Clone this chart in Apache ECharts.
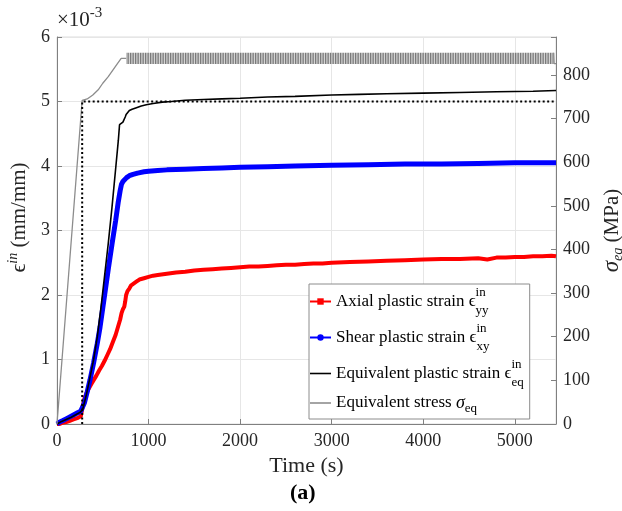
<!DOCTYPE html>
<html><head><meta charset="utf-8">
<script src="https://cdn.jsdelivr.net/npm/echarts@6/dist/echarts.min.js"></script>
<style>html,body{margin:0;padding:0;background:#fff}#c{width:622px;height:511px}</style>
</head><body><div id="c"></div>
<script>
// ---- data (time in s, strain in 1e-3 mm/mm, stress in MPa) ----
const xTicks = [0, 1000, 2000, 3000, 4000, 5000];
const axialStrain = [[0,0],[30,0.0],[60,0.02],[100,0.03],[140,0.05],[180,0.07],[220,0.09],[260,0.12],[275,0.15],[285,0.3],[300,0.4],[320,0.47],[340,0.53],[360,0.58],[380,0.63],[400,0.68],[430,0.75],[460,0.83],[490,0.9],[520,0.98],[550,1.07],[580,1.16],[610,1.27],[640,1.38],[665,1.5],[690,1.62],[705,1.72],[720,1.78],[735,1.82],[745,1.9],[755,2.0],[770,2.06],[790,2.1],[810,2.15],[840,2.18],[870,2.21],[900,2.24],[950,2.26],[1000,2.28],[1050,2.3],[1100,2.31],[1200,2.33],[1300,2.35],[1400,2.36],[1500,2.38],[1600,2.39],[1700,2.4],[1800,2.41],[1900,2.42],[2000,2.43],[2100,2.44],[2200,2.44],[2300,2.45],[2400,2.46],[2500,2.47],[2600,2.47],[2700,2.48],[2800,2.49],[2900,2.49],[3000,2.5],[3200,2.51],[3400,2.52],[3600,2.53],[3800,2.54],[4000,2.55],[4200,2.56],[4400,2.56],[4600,2.57],[4700,2.55],[4800,2.58],[4900,2.58],[5000,2.59],[5100,2.59],[5200,2.6],[5300,2.6],[5400,2.61],[5450,2.6]];
const shearStrain = [[0,0],[30,0.03],[60,0.05],[100,0.08],[140,0.11],[180,0.14],[220,0.17],[260,0.2],[280,0.23],[300,0.33],[330,0.5],[360,0.68],[400,0.95],[440,1.25],[470,1.5],[500,1.8],[530,2.1],[560,2.4],[600,2.78],[640,3.15],[670,3.45],[690,3.62],[705,3.72],[720,3.76],[740,3.79],[760,3.82],[790,3.85],[830,3.87],[880,3.89],[950,3.91],[1000,3.92],[1100,3.93],[1200,3.94],[1400,3.95],[1600,3.96],[1800,3.97],[2000,3.98],[2300,3.99],[2600,4.0],[3000,4.01],[3400,4.02],[3800,4.03],[4200,4.03],[4600,4.04],[5000,4.05],[5450,4.05]];
const eqStrain = [[0,0],[50,0.04],[100,0.07],[150,0.1],[200,0.14],[250,0.18],[280,0.22],[320,0.45],[360,0.72],[400,1.0],[440,1.35],[480,1.8],[520,2.3],[560,2.8],[600,3.35],[640,3.95],[670,4.4],[683,4.64],[700,4.66],[720,4.68],[735,4.7],[745,4.76],[755,4.8],[770,4.83],[790,4.86],[820,4.88],[860,4.9],[920,4.93],[975,4.95],[1050,4.97],[1150,4.99],[1250,5.0],[1400,5.02],[1600,5.03],[1800,5.04],[2000,5.05],[2300,5.07],[2600,5.08],[3000,5.1],[3300,5.11],[3600,5.12],[4000,5.13],[4400,5.14],[4800,5.15],[5200,5.16],[5450,5.17]];
const eqStress = [[0,0],[275,742],[330,745],[391,754],[450,766],[500,781],[560,796],[610,811],[660,826],[701,838],[756,838],[756,'-'],[5425,'-'],[5425,851],[5430,826],[5450,826]];
const stressCycleUpper = [[756,851],[5425,851]];
const stressCycleLower = 825;
const yieldGuide = [[275,0],[275,5.0],[5450,5.0]];
const legendNames = ['Axial plastic strain','Shear plastic strain','Equivalent plastic strain','Equivalent stress'];

const SERIF = "'Liberation Serif','DejaVu Serif',serif";
const chart = echarts.init(document.getElementById('c'), null, {renderer:'canvas'});

// stripe pattern for the dense stress cycles
const pc = document.createElement('canvas'); pc.width = 5; pc.height = 40;
const g = pc.getContext('2d');
g.fillStyle = '#d4d4d4'; g.fillRect(0,0,5,40);
g.fillStyle = '#7a7a7a'; g.fillRect(0,0,1.3,40); g.fillRect(2.5,0,1.3,40);

const axisGray = '#808080';
const tickFmt = v => (v % 1000 === 0 ? String(v) : '');
const lineIcon = 'path://M0,0H40V3H0Z';

chart.setOption({
  animation:false,
  backgroundColor:'#fff',
  grid:{left:57, right:66, top:37, bottom:87, show:true, borderColor:'#dcdcdc', borderWidth:1, outerBoundsMode:'none', containLabel:false},
  xAxis:{type:'value', min:0, max:5450, interval:1000,
    axisLine:{lineStyle:{color:axisGray}}, axisTick:{inside:true, length:5, lineStyle:{color:axisGray}},
    axisLabel:{fontFamily:SERIF, fontSize:18, color:'#262626', margin:8, formatter:tickFmt},
    splitLine:{show:true, lineStyle:{color:'#e6e6e6'}},
    name:'Time (s)', nameLocation:'middle', nameGap:31,
    nameTextStyle:{fontFamily:SERIF, fontSize:22, color:'#262626'}},
  yAxis:[
    {type:'value', min:0, max:6, interval:1, position:'left',
     axisLine:{show:true, lineStyle:{color:axisGray}}, axisTick:{show:true, inside:true, length:5, lineStyle:{color:axisGray}},
     axisLabel:{fontFamily:SERIF, fontSize:18, color:'#262626', margin:7},
     splitLine:{show:true, lineStyle:{color:'#e6e6e6'}},
     name:'{e|ϵ}{s|in}{t| (mm/mm)}', nameLocation:'middle', nameGap:20, nameRotate:90,
     nameTextStyle:{padding:[0,0,0,26], rich:{
       e:{fontFamily:SERIF, fontSize:22, color:'#262626', lineHeight:26},
       s:{fontFamily:SERIF, fontSize:14, fontStyle:'italic', color:'#262626', lineHeight:14, verticalAlign:'top'},
       t:{fontFamily:SERIF, fontSize:21, color:'#262626', lineHeight:26}}}},
    {type:'value', min:0, max:887, interval:100, position:'right',
     axisLine:{show:true, lineStyle:{color:axisGray}}, axisTick:{show:true, inside:true, length:5, lineStyle:{color:axisGray}},
     axisLabel:{fontFamily:SERIF, fontSize:18, color:'#262626', margin:7, formatter:v => (v % 100 === 0 ? String(v) : '')},
     splitLine:{show:false},
     name:'{s|σ}{b|eq}{t| (MPa)}', nameLocation:'middle', nameGap:36, nameRotate:90,
     nameTextStyle:{rich:{
       s:{fontFamily:SERIF, fontSize:23, fontStyle:'italic', color:'#262626', lineHeight:26},
       b:{fontFamily:SERIF, fontSize:14, fontStyle:'italic', color:'#262626', lineHeight:14, verticalAlign:'bottom'},
       t:{fontFamily:SERIF, fontSize:21, color:'#262626', lineHeight:26}}}}
  ],
  legend:{
    data:[legendNames[0], legendNames[1], {name:legendNames[2], icon:lineIcon}, {name:legendNames[3], icon:lineIcon}],
    orient:'vertical', left:309, top:284, symbolKeepAspect:true,
    backgroundColor:'#fff', borderColor:'#8c8c8c', borderWidth:1, borderRadius:0,
    padding:[2,6,4,0], itemGap:5, itemWidth:21, itemHeight:8,
    selectedMode:false,
    formatter:function(name){
      if(name===legendNames[0]) return '{m|Axial plastic strain ϵ}{sup|in}{sub|yy}';
      if(name===legendNames[1]) return '{m|Shear plastic strain ϵ}{sup|in}{sub|xy}';
      if(name===legendNames[2]) return '{m|Equivalent plastic strain ϵ}{sup|in}{sub|eq}';
      return '{m4|Equivalent stress }{sig|σ}{sub4|eq}';
    },
    textStyle:{fontFamily:SERIF, color:'#000', rich:{
      m:{fontFamily:SERIF, fontSize:17, color:'#000', lineHeight:31},
      sup:{fontFamily:SERIF, fontSize:13, color:'#000', lineHeight:14, verticalAlign:'top', width:0},
      sub:{fontFamily:SERIF, fontSize:13, color:'#000', lineHeight:14, verticalAlign:'bottom'},
      m4:{fontFamily:SERIF, fontSize:17, color:'#000', lineHeight:24},
      sig:{fontFamily:SERIF, fontSize:18, fontStyle:'italic', color:'#000', lineHeight:24},
      sub4:{fontFamily:SERIF, fontSize:13, color:'#000', lineHeight:12, verticalAlign:'bottom'}
    }}
  },
  graphic:[
    {type:'text', left:57, top:6, z:10, style:{text:'{a|×10}{b|-3}', rich:{
      a:{fontFamily:SERIF, fontSize:21, fill:'#262626', lineHeight:28},
      b:{fontFamily:SERIF, fontSize:15, fill:'#262626', lineHeight:14, verticalAlign:'top'}}}},
    {type:'text', left:290, top:482, z:10, style:{text:'(a)', fontFamily:SERIF, fontSize:22, fontWeight:'bold', fill:'#000'}}
  ],
  series:[
    {name:legendNames[0], type:'line', yAxisIndex:0, data:axialStrain, color:'#ff0000',
     symbol:'rect', symbolSize:4, showSymbol:false, lineStyle:{width:4, color:'#ff0000'}, z:2},
    {name:legendNames[1], type:'line', yAxisIndex:0, data:shearStrain, color:'#0000ff',
     symbol:'circle', symbolSize:5, showSymbol:false, lineStyle:{width:5, color:'#0000ff'}, z:3},
    {name:legendNames[2], type:'line', yAxisIndex:0, data:eqStrain, color:'#000',
     symbol:'none', lineStyle:{width:1.6, color:'#000'}, z:4},
    {name:legendNames[3], type:'line', yAxisIndex:1, data:eqStress, color:'#8c8c8c',
     symbol:'none', connectNulls:false, lineStyle:{width:1.3, color:'#8c8c8c'}, z:4},
    {name:'stress cycles', type:'line', yAxisIndex:1, data:stressCycleUpper, symbol:'none',
     lineStyle:{width:0, opacity:0}, areaStyle:{origin:stressCycleLower, opacity:1, color:{image:pc, repeat:'repeat'}}, z:4},
    {name:'guide', type:'line', yAxisIndex:0, data:yieldGuide, symbol:'none',
     lineStyle:{width:2, color:'#000', type:[2,2.5]}, z:5}
  ]
});
</script></body></html>
